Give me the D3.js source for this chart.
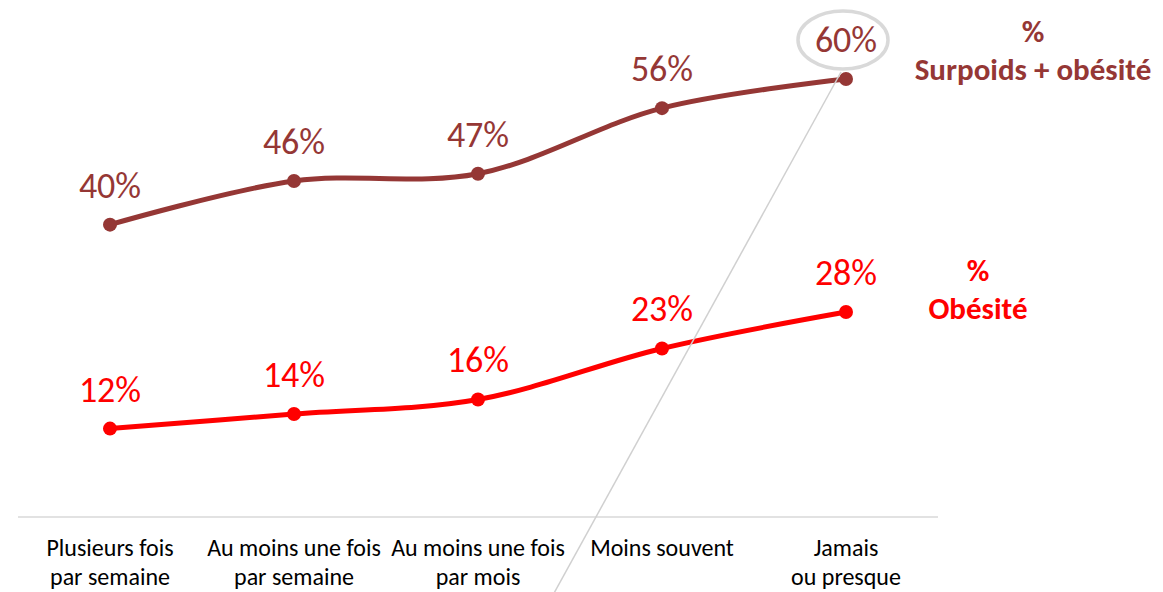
<!DOCTYPE html>
<html><head><meta charset="utf-8">
<script src="https://cdn.jsdelivr.net/npm/d3@7"></script>
<style>body{margin:0;background:#fff}svg{display:block}text{font-family:Carlito,Lato,"Open Sans",sans-serif}</style>
</head><body>
<svg id="c" width="1163" height="592"></svg>
<script>
const categories = [["Plusieurs fois","par semaine"],["Au moins une fois","par semaine"],["Au moins une fois","par mois"],["Moins souvent"],["Jamais","ou presque"]];
const surpoids = [40, 46, 47, 56, 60];
const obesite = [12, 14, 16, 23, 28];
const seriesNames = [["%","Surpoids + obésité"],["%","Obésité"]];
const colors = ["#953735", "#ff0000"];

const svg = d3.select("#c");
const x = d3.scalePoint().domain(d3.range(categories.length)).range([110, 846]);
const y = d3.scaleLinear().domain([0, 60]).range([516, 79]);

svg.append("line").attr("x1",18).attr("x2",938).attr("y1",517).attr("y2",517)
  .attr("stroke","#d9d9d9").attr("stroke-width",1.5);

categories.forEach((c,i)=>{
  const t = svg.append("text").attr("x",x(i)).attr("y",556).attr("text-anchor","middle")
    .attr("font-size",24).attr("fill","#000");
  c.forEach((l,j)=>t.append("tspan").attr("x",x(i)).attr("dy",j?29:0).text(l));
});

const line = d3.line().x((d,i)=>x(i)).y(d=>y(d)).curve(d3.curveCatmullRom.alpha(0.5));
[surpoids, obesite].forEach((s,k)=>{
  svg.append("path").attr("d",line(s)).attr("fill","none").attr("stroke",colors[k]).attr("stroke-width",5);
  svg.selectAll(null).data(s).enter().append("circle").attr("cx",(d,i)=>x(i)).attr("cy",d=>y(d)).attr("r",7).attr("fill",colors[k]);
  svg.selectAll(null).data(s).enter().append("text").attr("x",(d,i)=>x(i)).attr("y",d=>y(d)-27)
    .attr("text-anchor","middle").attr("font-size",36).attr("fill",colors[k]).text(d=>d+"%");
});

svg.append("line").attr("x1",841).attr("y1",72).attr("x2",553).attr("y2",595).attr("stroke","#d0d0d0").attr("stroke-width",1.5);
svg.append("ellipse").attr("cx",843).attr("cy",40).attr("rx",45).attr("ry",29).attr("fill","#fff").attr("fill-opacity",0).attr("stroke","#d9d9d9").attr("stroke-width",3.5);

const nameX = [1033, 978], nameY = [42, 281];
seriesNames.forEach((n,k)=>{
  const t = svg.append("text").attr("x",nameX[k]).attr("y",nameY[k]).attr("text-anchor","middle")
    .attr("font-size",31).attr("font-weight","bold").attr("fill",colors[k]);
  n.forEach((l,j)=>t.append("tspan").attr("x",nameX[k]).attr("dy",j?38:0).text(l));
});
</script>
</body></html>
